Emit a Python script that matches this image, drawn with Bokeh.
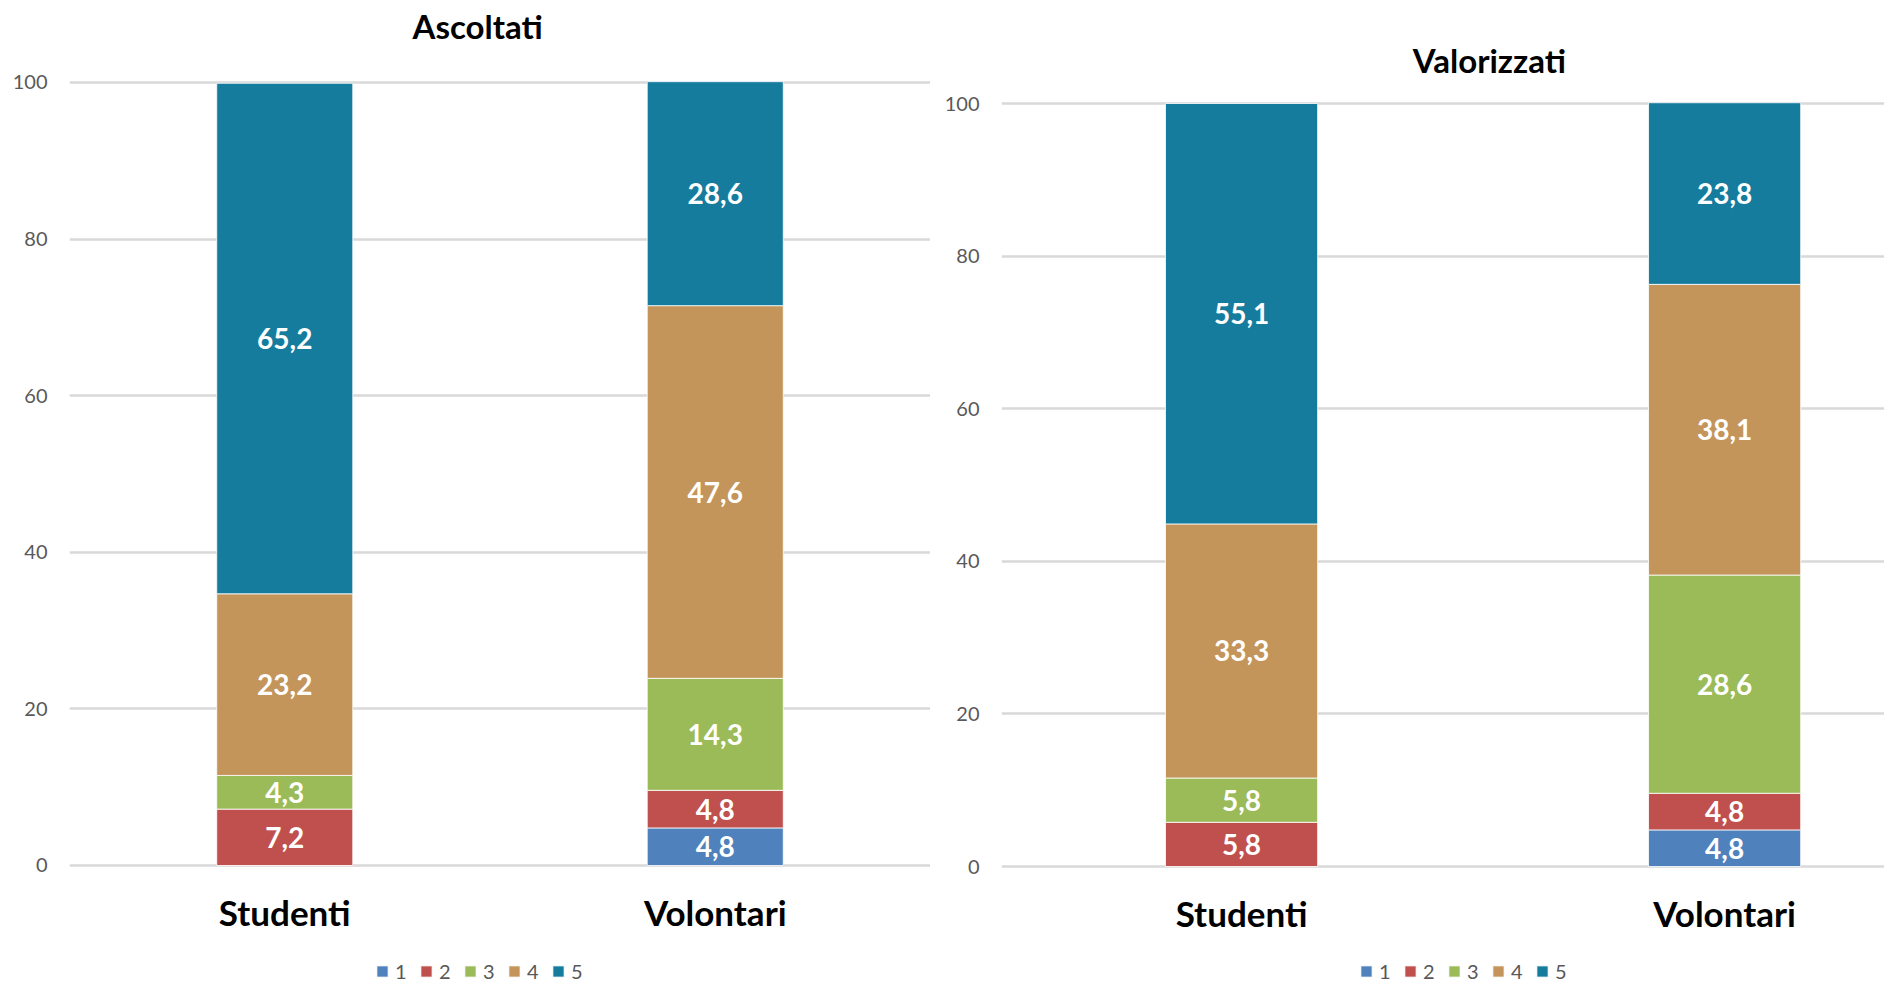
from bokeh.plotting import figure
from bokeh.models import (Range1d, FixedTicker, Legend, LegendItem, Label, ColumnDataSource)
from bokeh.layouts import row
from bokeh.embed import file_html
from bokeh.resources import INLINE
from bokeh.core.properties import value

# ---- data ----
categories = ["Studenti", "Volontari"]
levels = ["1", "2", "3", "4", "5"]
colors = ["#4f81bd", "#c0504d", "#9bbb59", "#c4955a", "#167c9e"]

ascoltati_1 = [0.0, 4.8]
ascoltati_2 = [7.2, 4.8]
ascoltati_3 = [4.3, 14.3]
ascoltati_4 = [23.2, 47.6]
ascoltati_5 = [65.2, 28.6]

valorizzati_1 = [0.0, 4.8]
valorizzati_2 = [5.8, 4.8]
valorizzati_3 = [5.8, 28.6]
valorizzati_4 = [33.3, 38.1]
valorizzati_5 = [55.1, 23.8]

y_ticks = [0, 20, 40, 60, 80, 100]

FONT = "Lato"
GRID = "#d9d9d9"
H = 983


def make_chart(title, series, width, b_left, x_start, x_end, y_start, y_end,
               title_x, title_y, cat_y, legend_loc, bar_w):
    p = figure(width=width, height=H, output_backend="svg", toolbar_location=None,
               x_range=Range1d(x_start, x_end), y_range=Range1d(y_start, y_end),
               min_border_left=b_left, min_border_right=0, min_border_top=0,
               min_border_bottom=0)
    p.outline_line_color = None
    p.background_fill_color = "white"
    p.border_fill_color = "white"
    p.xgrid.grid_line_color = None
    p.ygrid.grid_line_color = GRID
    p.ygrid.grid_line_width = 2.5
    p.ygrid.ticker = FixedTicker(ticks=y_ticks)
    p.xaxis.visible = False

    xs = list(range(len(categories)))
    data = {"x": xs}
    for lv, vals in zip(levels, series):
        data[lv] = vals
    src = ColumnDataSource(data)
    rends = p.vbar_stack(levels, x="x", width=bar_w, source=src, color=colors,
                         line_color="white", line_width=0.8)

    # value labels at segment centers
    lx, ly, lt = [], [], []
    for i, x in enumerate(xs):
        base = 0.0
        for vals in series:
            v = vals[i]
            if v > 0:
                lx.append(x)
                ly.append(base + v / 2)
                lt.append(f"{v:.1f}".replace(".", ","))
            base += v
    p.text(x=lx, y=ly, text=lt, text_color="white", text_font=value(FONT),
           text_font_style="bold", text_font_size="28px", text_align="center",
           text_baseline="middle")

    # category labels
    p.text(x=xs, y=[cat_y] * len(xs), text=categories, text_color="black",
           text_font=value(FONT), text_font_style="bold", text_font_size="35px",
           text_align="center", text_baseline="middle")

    # y axis
    p.yaxis.ticker = FixedTicker(ticks=y_ticks)
    p.yaxis.axis_line_color = None
    p.yaxis.major_tick_line_color = None
    p.yaxis.minor_tick_line_color = None
    p.yaxis.major_tick_out = 0
    p.yaxis.major_label_standoff = 22
    p.yaxis.major_label_text_font = FONT
    p.yaxis.major_label_text_font_size = "20px"
    p.yaxis.major_label_text_color = "#595959"

    p.add_layout(Label(x=title_x, y=title_y, text=title, text_font=FONT,
                       text_font_size="33px", text_font_style="bold",
                       text_color="black", text_align="center", text_baseline="middle"))

    items = [LegendItem(label=lv, renderers=[r]) for lv, r in zip(levels, rends)]
    leg = Legend(items=items, orientation="horizontal", location=legend_loc,
                 padding=0, margin=0, spacing=12, label_standoff=6,
                 glyph_width=14, glyph_height=14, label_height=14, label_width=12,
                 label_text_font=FONT, label_text_font_size="20px",
                 label_text_color="#595959", border_line_color=None,
                 background_fill_alpha=0)
    p.add_layout(leg, "center")
    return p


left = make_chart("Ascoltati",
                  [ascoltati_1, ascoltati_2, ascoltati_3, ascoltati_4, ascoltati_5],
                  width=930, b_left=69, x_start=-0.5, x_end=1.5,
                  y_start=-15.07, y_end=110.47, title_x=0.448, title_y=107.15,
                  cat_y=-6.0, legend_loc=(306, 0), bar_w=0.316)
right = make_chart("Valorizzati",
                   [valorizzati_1, valorizzati_2, valorizzati_3, valorizzati_4, valorizzati_5],
                   width=954, b_left=71, x_start=-0.497, x_end=1.331,
                   y_start=-15.33, y_end=113.5, title_x=0.513, title_y=105.64,
                   cat_y=-6.03, legend_loc=(358, 0), bar_w=0.315)

layout = row(left, right, spacing=0)
open("out.html", "w").write(file_html(layout, INLINE))
